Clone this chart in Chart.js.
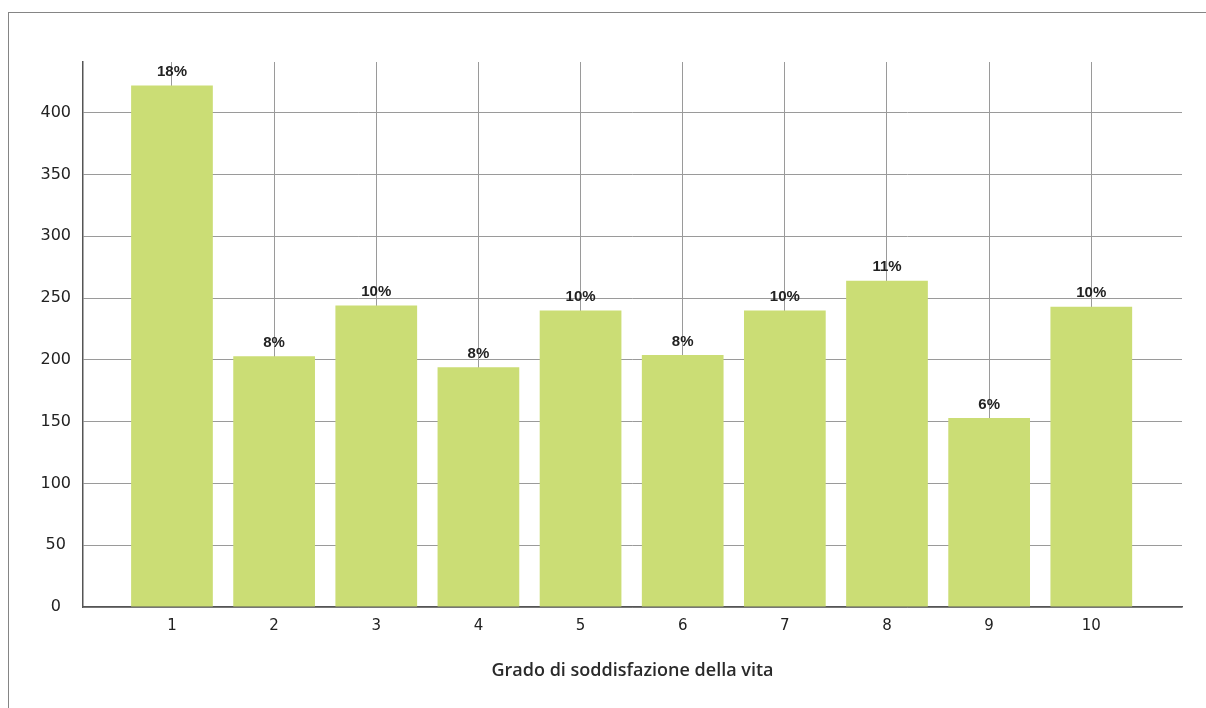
<!DOCTYPE html>
<html>
<head>
<meta charset="utf-8">
<script src="https://cdn.jsdelivr.net/npm/chart.js@4/dist/chart.umd.min.js"></script>
<style>
  html, body { margin: 0; padding: 0; background: #fff; }
  #wrap { position: relative; width: 1206px; height: 708px; overflow: hidden; }
  #frame { position: absolute; left: 8px; top: 12px; right: -2px; bottom: -2px;
           border-top: 1.5px solid #858585; border-left: 1.5px solid #858585; pointer-events: none; }
  canvas { position: absolute; left: 0; top: 0; }
</style>
</head>
<body>
<div id="wrap">
  <canvas id="c" width="1206" height="708"></canvas>
  <div id="frame"></div>
</div>
<script>
// ---- data ----
const categories = ['1', '2', '3', '4', '5', '6', '7', '8', '9', '10'];
const values = [422, 203, 244, 194, 240, 204, 240, 264, 153, 243];
const percentLabels = ['18%', '8%', '10%', '8%', '10%', '8%', '10%', '11%', '6%', '10%'];
const yTickValues = [0, 50, 100, 150, 200, 250, 300, 350, 400];
const xAxisTitle = 'Grado di soddisfazione della vita';

const points = values.map((v, i) => ({ x: i + 1, y: v }));

const labelPlugin = {
  id: 'pctLabels',
  afterDatasetsDraw(chart) {
    const ctx = chart.ctx;
    const meta = chart.getDatasetMeta(0);
    ctx.save();
    ctx.font = 'bold 15px "Liberation Sans", Arial, sans-serif';
    ctx.fillStyle = '#222';
    ctx.textAlign = 'center';
    ctx.textBaseline = 'middle';
    meta.data.forEach((bar, i) => {
      ctx.fillText(percentLabels[i], bar.x, bar.y - 13.5);
    });
    ctx.restore();
  }
};

new Chart(document.getElementById('c'), {
  type: 'bar',
  data: {
    datasets: [{
      data: points,
      backgroundColor: '#cbdd75',
      borderWidth: 0,
      barPercentage: 0.8,
      categoryPercentage: 1.0
    }]
  },
  options: {
    responsive: false,
    devicePixelRatio: 1,
    animation: false,
    layout: { padding: { top: 62, right: 24, bottom: 0, left: 0 } },
    plugins: { legend: { display: false }, tooltip: { enabled: false } },
    scales: {
      x: {
        type: 'linear',
        min: 0.129,
        max: 10.888,
        offset: false,
        afterBuildTicks: (axis) => { axis.ticks = categories.map((c, i) => ({ value: i + 1 })); },
        afterFit: (s) => { s.height = 101; },
        grid: { display: true, offset: false, color: '#9a9a9a', lineWidth: 1, drawTicks: false },
        border: { display: true, color: '#555', width: 1.5 },
        ticks: {
          padding: 10,
          color: '#222',
          font: { family: '"DejaVu Sans", sans-serif', size: 15 },
          callback: (v, i) => categories[i]
        },
        title: {
          display: true,
          text: xAxisTitle,
          color: '#2a2a2a',
          font: { family: '"Open Sans", sans-serif', size: 18, weight: '600' },
          padding: { top: 0, bottom: 26 }
        }
      },
      y: {
        min: 0,
        max: 441,
        afterBuildTicks: (axis) => { axis.ticks = yTickValues.map(v => ({ value: v })); },
        afterFit: (s) => { s.width = 83; },
        grid: { color: '#9a9a9a', lineWidth: 1, drawTicks: false },
        border: { display: true, color: '#555', width: 1.5 },
        ticks: {
          padding: 12,
          crossAlign: 'center',
          color: '#222',
          font: { family: '"DejaVu Sans", sans-serif', size: 16 }
        }
      }
    }
  },
  plugins: [labelPlugin]
});
</script>
</body>
</html>
